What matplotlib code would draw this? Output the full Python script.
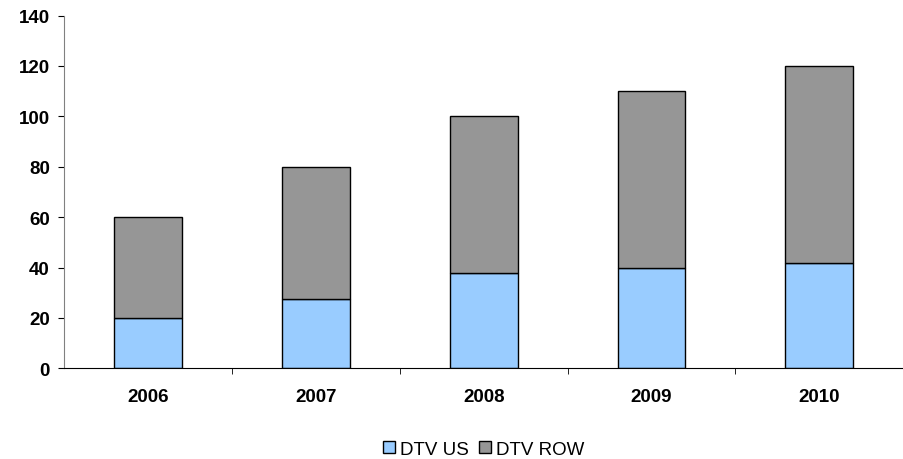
import numpy as np
import matplotlib.pyplot as plt

years = ["2006", "2007", "2008", "2009", "2010"]
dtv_us = [20, 27.5, 38, 40, 42]
dtv_row = [40, 52.5, 62, 70, 78]

plt.rcParams["font.family"] = ["Liberation Sans", "DejaVu Sans"]

fig = plt.figure(figsize=(9.04, 4.6), dpi=100)
ax = fig.add_axes([0.0711, 0.197, 0.928, 0.767])

x = np.arange(len(years))
ax.bar(x, dtv_us, width=0.405, color="#99CCFF", edgecolor="black", linewidth=1, label="DTV US")
ax.bar(x, dtv_row, width=0.405, bottom=dtv_us, color="#969696", edgecolor="black", linewidth=1, label="DTV ROW")

ax.set_xlim(-0.5, len(years) - 0.5)
ax.set_ylim(0, 140)
ax.set_yticks(range(0, 141, 20))
ax.set_yticklabels([str(v) for v in range(0, 141, 20)], fontsize=13.5, fontweight="bold")

ax.set_xticks(x)
ax.set_xticklabels(years, fontsize=13.5, fontweight="bold")
ax.tick_params(axis="x", which="major", length=0, pad=14)
ax.set_xticks(np.arange(0.5, len(years) - 0.5, 1), minor=True)
ax.tick_params(axis="x", which="minor", length=4.3, direction="out", color="black")
ax.tick_params(axis="y", length=4.3, direction="out", colors="black", pad=6)

for side in ["top", "right"]:
    ax.spines[side].set_visible(False)
ax.spines["left"].set_color("#808080")
ax.spines["bottom"].set_color("black")

ax.legend(loc="center", bbox_to_anchor=(0.5, -0.229), ncol=2, frameon=False,
          fontsize=13.5, handlelength=0.65, handleheight=0.65, handletextpad=0.3,
          columnspacing=0.5)

plt.savefig("out.png", dpi=100)
